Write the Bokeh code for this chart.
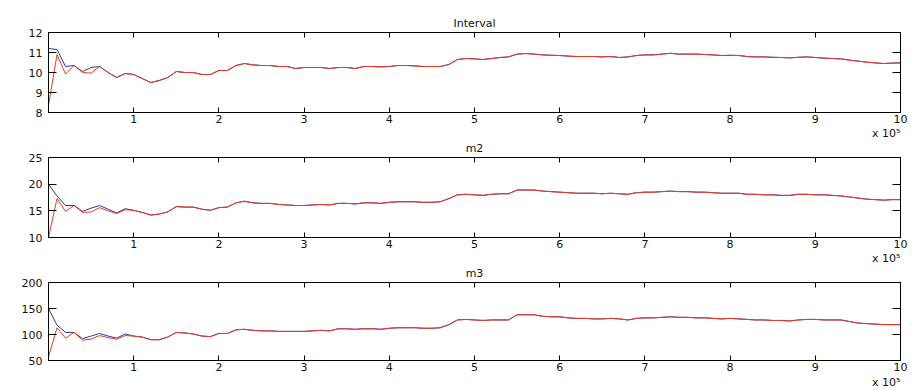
from bokeh.plotting import figure
from bokeh.models import LinearAxis, FixedTicker, Range1d, Title
from bokeh.layouts import column
from bokeh.embed import file_html
from bokeh.resources import INLINE

# sample positions in units of 10^5
x_vals = [round(i * 0.1, 1) for i in range(101)]
x_ticks = [1, 2, 3, 4, 5, 6, 7, 8, 9, 10]
x_tick_labels = ["1", "2", "3", "4", "5", "6", "7", "8", "9", "10"]
x_scale_label = "x 10\u2075"

titles = ["Interval", "m2", "m3"]

interval_blue = [11.2, 11.15, 10.3, 10.35, 10.05, 10.25, 10.3, 10.0, 9.75, 9.95,
                 9.9, 9.7, 9.5, 9.6, 9.75, 10.05, 10.0, 10.0, 9.9, 9.9,
                 10.1, 10.1, 10.35, 10.45, 10.38, 10.35, 10.35, 10.3, 10.3, 10.2,
                 10.25, 10.25, 10.25, 10.2, 10.25, 10.25, 10.2, 10.3, 10.3, 10.28,
                 10.3, 10.35, 10.35, 10.33, 10.3, 10.3, 10.3, 10.4, 10.65, 10.7,
                 10.68, 10.65, 10.7, 10.75, 10.78, 10.92, 10.95, 10.92, 10.88, 10.86,
                 10.85, 10.82, 10.8, 10.8, 10.8, 10.78, 10.8, 10.75, 10.78, 10.85,
                 10.88, 10.88, 10.92, 10.96, 10.92, 10.92, 10.92, 10.9, 10.88, 10.85,
                 10.86, 10.85, 10.8, 10.78, 10.78, 10.76, 10.75, 10.73, 10.76, 10.78,
                 10.75, 10.72, 10.7, 10.68, 10.62, 10.57, 10.52, 10.48, 10.45, 10.47,
                 10.48]
interval_red = [8.35, 10.9, 9.92, 10.35, 10.0, 9.97, 10.3, 10.0, 9.75, 9.95,
                9.9, 9.7, 9.5, 9.6, 9.75, 10.05, 10.0, 10.0, 9.9, 9.9,
                10.1, 10.1, 10.35, 10.45, 10.38, 10.35, 10.35, 10.3, 10.3, 10.2,
                10.25, 10.25, 10.25, 10.2, 10.25, 10.25, 10.2, 10.3, 10.3, 10.28,
                10.3, 10.35, 10.35, 10.33, 10.3, 10.3, 10.3, 10.4, 10.65, 10.7,
                10.68, 10.65, 10.7, 10.75, 10.78, 10.92, 10.95, 10.92, 10.88, 10.86,
                10.85, 10.82, 10.8, 10.8, 10.8, 10.78, 10.8, 10.75, 10.78, 10.85,
                10.88, 10.88, 10.92, 10.96, 10.92, 10.92, 10.92, 10.9, 10.88, 10.85,
                10.86, 10.85, 10.8, 10.78, 10.78, 10.76, 10.75, 10.73, 10.76, 10.78,
                10.75, 10.72, 10.7, 10.68, 10.62, 10.57, 10.52, 10.48, 10.45, 10.47,
                10.48]

m2_blue = [20.0, 17.8, 16.0, 16.0, 14.9, 15.5, 16.0, 15.3, 14.6, 15.4,
           15.1, 14.7, 14.2, 14.4, 14.8, 15.8, 15.7, 15.7, 15.3, 15.1,
           15.6, 15.7, 16.5, 16.8, 16.5, 16.4, 16.4, 16.2, 16.1, 16.0,
           16.0, 16.1, 16.2, 16.1, 16.4, 16.4, 16.3, 16.5, 16.5, 16.4,
           16.6, 16.7, 16.7, 16.7, 16.6, 16.6, 16.7, 17.3, 18.0, 18.1,
           18.0, 17.9, 18.1, 18.2, 18.2, 18.9, 18.9, 18.9, 18.7, 18.6,
           18.5, 18.4, 18.3, 18.3, 18.3, 18.2, 18.3, 18.2, 18.1, 18.4,
           18.5, 18.5, 18.6, 18.7, 18.6, 18.6, 18.5, 18.5, 18.4, 18.3,
           18.3, 18.3, 18.1, 18.1, 18.0, 18.0, 17.9, 17.9, 18.1, 18.1,
           18.0, 18.0, 17.9, 17.8, 17.6, 17.4, 17.2, 17.1, 17.0, 17.1,
           17.1]
m2_red = [10.0, 17.3, 14.9, 16.0, 14.7, 14.8, 15.6, 15.0, 14.5, 15.2,
          15.1, 14.7, 14.2, 14.4, 14.8, 15.8, 15.7, 15.7, 15.3, 15.1,
          15.6, 15.7, 16.5, 16.8, 16.5, 16.4, 16.4, 16.2, 16.1, 16.0,
          16.0, 16.1, 16.2, 16.1, 16.4, 16.4, 16.3, 16.5, 16.5, 16.4,
          16.6, 16.7, 16.7, 16.7, 16.6, 16.6, 16.7, 17.3, 18.0, 18.1,
          18.0, 17.9, 18.1, 18.2, 18.2, 18.9, 18.9, 18.9, 18.7, 18.6,
          18.5, 18.4, 18.3, 18.3, 18.3, 18.2, 18.3, 18.2, 18.1, 18.4,
          18.5, 18.5, 18.6, 18.7, 18.6, 18.6, 18.5, 18.5, 18.4, 18.3,
          18.3, 18.3, 18.1, 18.1, 18.0, 18.0, 17.9, 17.9, 18.1, 18.1,
          18.0, 18.0, 17.9, 17.8, 17.6, 17.4, 17.2, 17.1, 17.0, 17.1,
          17.1]

m3_blue = [150, 118, 104, 104, 92, 97, 102, 97, 93, 101,
           97, 95, 90, 90, 95, 104, 103, 101, 97, 96,
           102, 102, 109, 110, 108, 107, 107, 106, 106, 106,
           106, 107, 108, 107, 111, 111, 110, 111, 111, 110,
           112, 113, 113, 113, 112, 112, 113, 119, 128, 129,
           128, 127, 128, 128, 128, 138, 138, 138, 135, 134,
           134, 132, 131, 131, 130, 130, 131, 130, 128, 131,
           132, 132, 133, 134, 133, 133, 132, 132, 131, 130,
           131, 130, 129, 128, 128, 127, 127, 126, 128, 129,
           129, 128, 128, 128, 125, 122, 121, 120, 119, 119,
           119]
m3_red = [57, 113, 93, 104, 89, 91, 98, 94, 91, 98,
          97, 95, 90, 90, 95, 104, 103, 101, 97, 96,
          102, 102, 109, 110, 108, 107, 107, 106, 106, 106,
          106, 107, 108, 107, 111, 111, 110, 111, 111, 110,
          112, 113, 113, 113, 112, 112, 113, 119, 128, 129,
          128, 127, 128, 128, 128, 138, 138, 138, 135, 134,
          134, 132, 131, 131, 130, 130, 131, 130, 128, 131,
          132, 132, 133, 134, 133, 133, 132, 132, 131, 130,
          131, 130, 129, 128, 128, 127, 127, 126, 128, 129,
          129, 128, 128, 128, 125, 122, 121, 120, 119, 119,
          119]

y_ranges = [(8, 12), (10, 25), (50, 200)]
y_ticks = [[8, 9, 10, 11, 12], [10, 15, 20, 25], [50, 100, 150, 200]]

BLUE = "#2b3a9e"
RED = "#ee3a1f"
FONT = "DejaVu Sans"
FS = "11px"
TXT = "#111111"

# layout: (fig height, border top, border bottom, title standoff)
layouts = [(127, 32, 15, 6), (125, 30, 15, 6), (138, 30, 30, 6)]


def style_axis(ax, ticker, tick_len, show_labels):
    ax.ticker = ticker
    ax.major_tick_in = tick_len
    ax.major_tick_out = 0
    ax.minor_tick_in = 0
    ax.minor_tick_out = 0
    ax.axis_line_color = "black"
    ax.major_tick_line_color = "black"
    ax.major_label_text_font = FONT
    if show_labels:
        ax.major_label_text_font_size = FS
        ax.major_label_text_color = TXT
    else:
        ax.major_label_text_font_size = "1px"
        ax.major_label_text_color = None
        ax.major_label_standoff = 0


def text_title(text, align, standoff):
    return Title(text=text, align=align, text_font=FONT, text_font_size=FS,
                 text_font_style="normal", text_color=TXT, standoff=standoff)


def panel(title, blue, red, yr, yt, lay, scale_above, scale_below):
    h, bt, bb, ts = lay
    p = figure(width=912, height=h, x_range=Range1d(0, 10), y_range=Range1d(*yr),
               output_backend="svg", toolbar_location=None, title=None,
               min_border_left=48, min_border_right=12,
               min_border_top=bt, min_border_bottom=bb)
    p.xgrid.visible = False
    p.ygrid.visible = False
    p.outline_line_color = "black"
    p.background_fill_color = "white"
    p.border_fill_color = "white"

    style_axis(p.xaxis[0], FixedTicker(ticks=x_ticks), 5, True)
    p.xaxis[0].major_label_overrides = {t: s for t, s in zip(x_ticks, x_tick_labels)}
    p.xaxis[0].major_label_standoff = 2
    style_axis(p.yaxis[0], FixedTicker(ticks=yt), 8, True)
    p.yaxis[0].major_label_standoff = 6

    top = LinearAxis()
    style_axis(top, FixedTicker(ticks=x_ticks), 5, False)
    p.add_layout(top, "above")
    right = LinearAxis()
    style_axis(right, FixedTicker(ticks=yt), 8, False)
    p.add_layout(right, "right")

    p.line(x_vals, blue, line_color=BLUE, line_width=1)
    p.line(x_vals, red, line_color=RED, line_width=1)

    # panel title (inner), then the previous panel's scale note (outer)
    p.add_layout(text_title(title, "center", ts), "above")
    if scale_above:
        p.add_layout(text_title(x_scale_label, "right", -6), "above")
    if scale_below:
        p.add_layout(text_title(x_scale_label, "right", 0), "below")
    return p


series = [(interval_blue, interval_red), (m2_blue, m2_red), (m3_blue, m3_red)]
figs = [panel(titles[i], series[i][0], series[i][1], y_ranges[i], y_ticks[i], layouts[i],
              scale_above=(i > 0), scale_below=(i == 2))
        for i in range(3)]

layout = column(*figs, spacing=0)
open("out.html", "w").write(file_html(layout, INLINE))
